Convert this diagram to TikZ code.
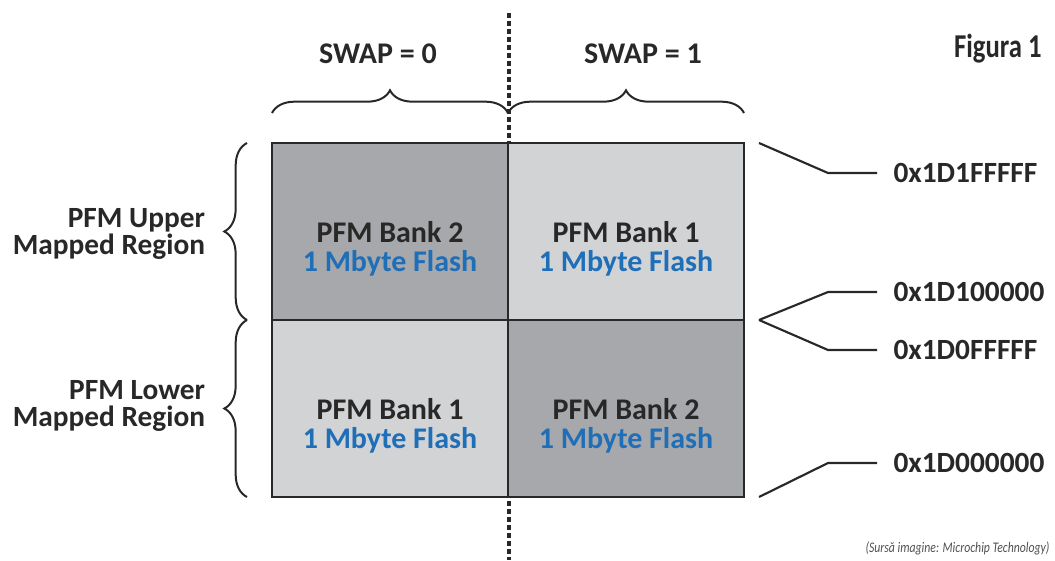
\documentclass[tikz,border=0pt]{standalone}
\usepackage{fontspec}
\setmainfont{Carlito}
\usetikzlibrary{positioning,calc,decorations.pathreplacing}
\definecolor{bankdark}{RGB}{167,168,171}
\definecolor{banklight}{RGB}{210,211,213}
\definecolor{flashblue}{RGB}{30,110,184}
\definecolor{inkgray}{RGB}{40,40,40}
\definecolor{notegray}{RGB}{80,80,80}
\tikzset{every picture/.style={line width=0.75pt}}

\begin{document}
\begin{tikzpicture}[x=0.75pt,y=0.75pt,yscale=-1,xscale=1,
  cell/.style={draw=inkgray, line width=2.2pt, minimum width=177pt, minimum height=132.75pt, inner sep=0pt, outer sep=0pt},
  banktext/.style={align=center, font=\fontsize{22.5}{21.5}\selectfont\bfseries, text=inkgray},
  sidetext/.style={align=right, anchor=east, font=\fontsize{22}{20}\selectfont\bfseries, text=inkgray},
  addr/.style={anchor=west, inner sep=0pt, font=\fontsize{22}{24}\selectfont\bfseries, text=inkgray},
  bracket/.style={draw=inkgray, line width=1.5pt, decorate, decoration={brace, amplitude=17pt}},
  leader/.style={draw=inkgray, line width=1.6pt}]
\path[use as bounding box, clip] (0,0) rectangle (1055,560);

%dotted divider (behind the banks)
\coordinate (dtop) at (509,13);
\coordinate (dbot) at (509,560);
\draw [draw=inkgray, line width=3pt, dash pattern=on 3.5pt off 2.5pt] (dtop) -- (dbot);

%the four banks
\node [cell, fill=bankdark] (ul) at (390,231.5) {};
\node [cell, fill=banklight, right=0pt of ul] (ur) {};
\node [cell, fill=banklight, below=0pt of ul] (ll) {};
\node [cell, fill=bankdark, right=0pt of ll] (lr) {};

% Text Node
\node [banktext] (ult) at ([yshift=13pt]ul.center) {PFM Bank 2\\{\color{flashblue}1 Mbyte Flash}};
% Text Node
\node [banktext] (urt) at ([yshift=13pt]ur.center) {PFM Bank 1\\{\color{flashblue}1 Mbyte Flash}};
% Text Node
\node [banktext] (llt) at ([yshift=13pt]ll.center) {PFM Bank 1\\{\color{flashblue}1 Mbyte Flash}};
% Text Node
\node [banktext] (lrt) at ([yshift=13pt]lr.center) {PFM Bank 2\\{\color{flashblue}1 Mbyte Flash}};

%swap braces
\draw [bracket] ($(ul.north west)+(0,-30)$) -- ($(ul.north east)+(0,-30)$);
\draw [bracket] ($(ur.north west)+(0,-30)$) -- ($(ur.north east)+(0,-30)$);
\node [banktext] (swap0) at (378,54) {SWAP = 0};
\node [banktext] (swap1) at (643,54) {SWAP = 1};

%region braces
\draw [bracket] ($(ul.south west)+(-25,0)$) -- ($(ul.north west)+(-25,0)$);
\draw [bracket] ($(ll.south west)+(-25,0)$) -- ($(ll.north west)+(-25,0)$);
\node [sidetext] (upper) at (210,234) {PFM Upper\\Mapped Region};
\node [sidetext] (lower) at (210,406) {PFM Lower\\Mapped Region};

%addresses
\node [addr] (a1) at (893,173) {0x1D1FFFFF};
\node [addr] (a2) at (893,292) {0x1D100000};
\node [addr] (a3) at (893,350) {0x1D0FFFFF};
\node [addr] (a4) at (893,463) {0x1D000000};
\coordinate (p1) at ($(ur.north east)+(15,0)$);
\coordinate (p2) at ($(lr.north east)+(15,0)$);
\coordinate (p3) at ($(lr.south east)+(15,0)$);
\draw [leader] (p1) -- ($(a1.west)+(-65,0)$) -- ($(a1.west)+(-16,0)$);
\draw [leader] (p2) -- ($(a2.west)+(-65,0)$) -- ($(a2.west)+(-16,0)$);
\draw [leader] (p2) -- ($(a3.west)+(-65,0)$) -- ($(a3.west)+(-16,0)$);
\draw [leader] (p3) -- ($(a4.west)+(-65,0)$) -- ($(a4.west)+(-16,0)$);

% Text Node
\node [anchor=base east, inner sep=0pt, font=\fontsize{25}{28}\selectfont\bfseries, text=inkgray] (fig) at (1042,58) {\scalebox{0.8}[1]{Figura 1}};
% Text Node
\node [anchor=east, inner sep=0pt, font=\fontsize{11}{13}\selectfont\itshape, text=notegray] (src) at (1050,548) {\scalebox{0.8}[1]{(Sursă imagine: Microchip Technology)}};

\end{tikzpicture}
\end{document}
